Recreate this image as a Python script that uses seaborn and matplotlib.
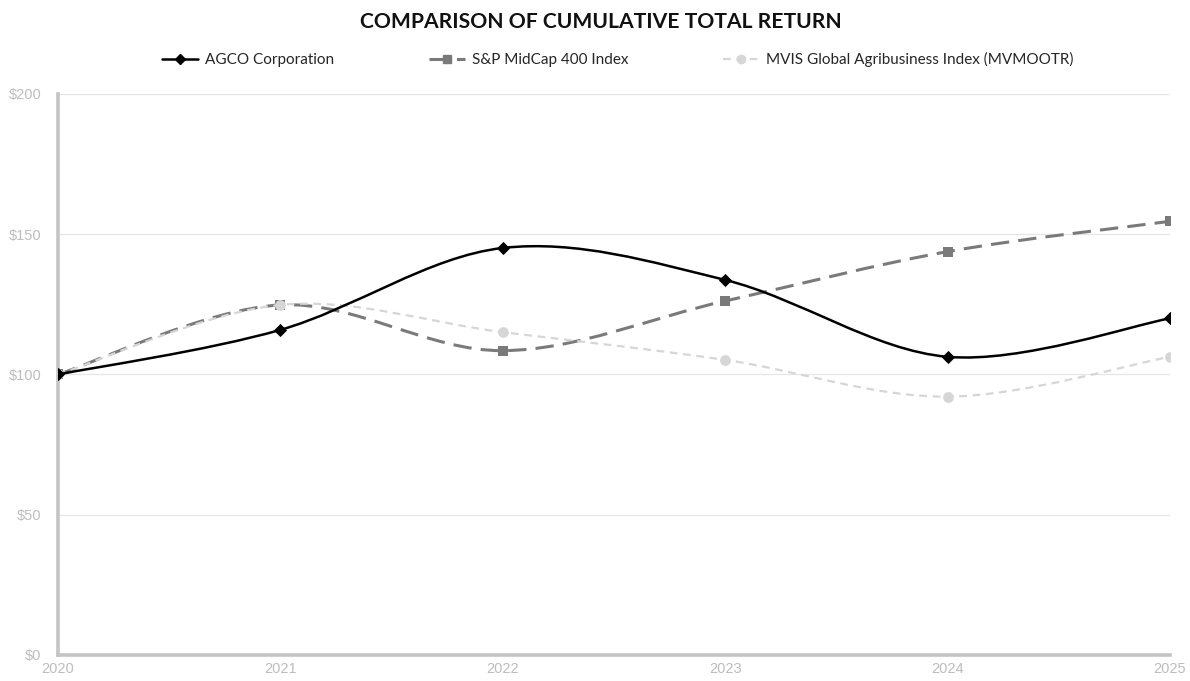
import numpy as np
import pandas as pd
import matplotlib
matplotlib.use("Agg")
import matplotlib.pyplot as plt
import seaborn as sns
from matplotlib.path import Path
from matplotlib.patches import PathPatch
from matplotlib.lines import Line2D

# values
years = [2020, 2021, 2022, 2023, 2024, 2025]
agco = [100, 115.9, 145.1, 133.7, 106.3, 120.0]
sp400 = [100, 124.8, 108.5, 126.2, 143.8, 154.6]
mvis = [100, 124.8, 115.1, 105.2, 92.1, 106.3]
series_names = ["AGCO Corporation", "S&P MidCap 400 Index",
                "MVIS Global Agribusiness Index (MVMOOTR)"]
y_ticks = [0, 50, 100, 150, 200]
y_labels = ["$0", "$50", "$100", "$150", "$200"]

sns.set_theme(style="white")
plt.rcParams['font.family'] = ['Liberation Sans', 'DejaVu Sans']


def smooth_path(xs, ys):
    # Excel-like smoothed line: Catmull-Rom segments as cubic Bezier curves
    pts = np.column_stack([xs, ys]).astype(float)
    ext = np.vstack([pts[0], pts, pts[-1]])
    verts = [pts[0]]
    codes = [Path.MOVETO]
    for i in range(1, len(ext) - 2):
        p0, p1, p2, p3 = ext[i - 1], ext[i], ext[i + 1], ext[i + 2]
        verts += [p1 + (p2 - p0) / 6, p2 - (p3 - p1) / 6, p2]
        codes += [Path.CURVE4] * 3
    return Path(verts, codes)


styles = [
    # values, colour, line width, dashes, marker, marker size, zorder
    (sp400, "#7a7a7a", 2.2, (6, 3), "s", 60, 3),
    (mvis, "#d6d6d6", 1.6, (3.5, 2.5), "o", 60, 4),
    (agco, "#000000", 1.8, None, "D", 45, 5),
]

fig = plt.figure(figsize=(11.9, 6.81), dpi=100)
ax = fig.add_axes([0.0487, 0.0382, 0.9345, 0.8238])

for vals, col, lw, dash, mk, ms, z in styles:
    patch = PathPatch(smooth_path(years, vals), fill=False, edgecolor=col,
                      lw=lw, zorder=z, capstyle="butt")
    if dash is not None:
        patch.set_linestyle((0, dash))
    ax.add_patch(patch)
    sns.scatterplot(x=years, y=vals, marker=mk, s=ms, color=col,
                    edgecolor=col, linewidth=0, ax=ax, zorder=z + 0.5)

ax.set_xlim(2020, 2025)
ax.set_ylim(0, 200)
ax.set_yticks(y_ticks)
ax.set_yticklabels(y_labels)
ax.set_xticks(years)
ax.set_xticklabels([str(y) for y in years])
ax.grid(axis="y", color="#e6e6e6", lw=0.9)
ax.set_axisbelow(True)

for s in ["top", "right"]:
    ax.spines[s].set_visible(False)
for s in ["left", "bottom"]:
    ax.spines[s].set_color("#c4c4c4")
    ax.spines[s].set_linewidth(2.6)
ax.tick_params(axis="both", colors="#c4c4c4", labelcolor="#bdbdbd",
               labelsize=10.5, length=3, width=1.5)
ax.tick_params(axis="y", length=0, pad=12)
ax.tick_params(axis="x", pad=2)

handles = [
    Line2D([], [], color="#000000", lw=1.8, marker="D", markersize=5),
    Line2D([], [], color="#7a7a7a", lw=2.2, ls=(0, (6, 3)), marker="s", markersize=6),
    Line2D([], [], color="#d6d6d6", lw=1.6, ls=(0, (3.5, 2.5)), marker="o", markersize=6),
]
fig.legend(handles, series_names, loc="center", bbox_to_anchor=(0.519, 0.912),
           ncol=3, frameon=False, handlelength=2.35,
           columnspacing=6.2, handletextpad=0.45, labelcolor="#262626",
           prop={"family": "Lato", "size": 11})

fig.text(0.505, 0.968, "COMPARISON OF CUMULATIVE TOTAL RETURN", ha="center",
         va="center", fontsize=15.2, fontweight="bold", family="Lato",
         color="#111111")

fig.savefig("out.png", dpi=100)
